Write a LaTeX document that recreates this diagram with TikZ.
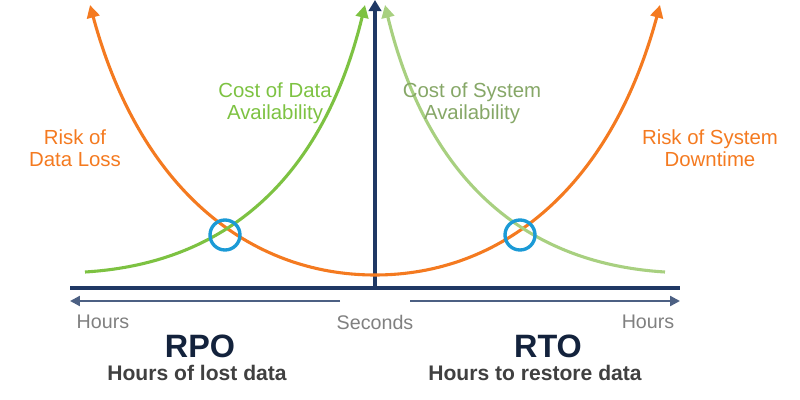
\documentclass[tikz,border=0pt]{standalone}
\usepackage{fontspec}
\setmainfont{Liberation Sans}
\usetikzlibrary{arrows.meta}
\definecolor{riskorange}{HTML}{F47A20}
\definecolor{costgreen}{HTML}{7DC242}
\definecolor{costlight}{HTML}{A8D080}
\definecolor{axisnavy}{HTML}{1F3864}
\definecolor{ringblue}{HTML}{1B9AD6}
\tikzset{
  curve/.style={line width=2.2pt,-{Triangle[length=9pt,width=9pt]}},
  lbl/.style={align=center,font=\fontsize{14.5}{16}\selectfont},
  tick/.style={text=gray,font=\fontsize{14}{16}\selectfont},
}
\begin{document}
\begin{tikzpicture}[x=0.025cm,y=-0.025cm]
  \useasboundingbox (0,0) rectangle (800,400);
  % axes
  \draw[axisnavy,line width=2.4pt,-{Triangle[length=8pt,width=9pt]}] (375,288) -- (375,0);
  \draw[axisnavy,line width=2.4pt] (70,288) -- (680,288);
  \draw[axisnavy!80,line width=1.6pt,-{Triangle[length=7pt,width=7pt]}] (340,301) -- (70,301);
  \draw[axisnavy!80,line width=1.6pt,-{Triangle[length=7pt,width=7pt]}] (410,301) -- (680,301);
  % curves
  \draw[riskorange,curve] (375,275) .. controls (250,275) and (140,190) .. (90,5);
  \draw[riskorange,curve] (375,275) .. controls (500,275) and (610,190) .. (660,5);
  \draw[costgreen,curve] (85,272) .. controls (250,262) and (330,150) .. (365,5);
  \draw[costlight,curve] (665,272) .. controls (500,262) and (420,150) .. (385,5);
  % crossings
  \draw[ringblue,line width=2.4pt] (225,235) circle (15);
  \draw[ringblue,line width=2.4pt] (520,235) circle (15);
  % labels
  \node[lbl,text=riskorange] (risk1) at (75,148) {Risk of\\Data Loss};
  \node[lbl,text=costgreen] (cost1) at (275,103) {Cost of Data\\Availability};
  \node[lbl,text=costlight!80!black] (cost2) at (472,103) {Cost of System\\Availability};
  \node[lbl,text=riskorange] (risk2) at (710,148) {Risk of System\\Downtime};
  \node[tick] (h1) at (103,322) {Hours};
  \node[tick] (sec) at (375,322) {Seconds};
  \node[tick] (h2) at (648,322) {Hours};
  \node[font=\bfseries\fontsize{23}{25}\selectfont,text=axisnavy!60!black] (rpo) at (200,346) {RPO};
  \node[font=\bfseries\fontsize{15}{17}\selectfont,text=black!75] (rpot) at (197,373) {Hours of lost data};
  \node[font=\bfseries\fontsize{23}{25}\selectfont,text=axisnavy!60!black] (rto) at (548,346) {RTO};
  \node[font=\bfseries\fontsize{15}{17}\selectfont,text=black!75] (rtot) at (535,373) {Hours to restore data};
\end{tikzpicture}
\end{document}
